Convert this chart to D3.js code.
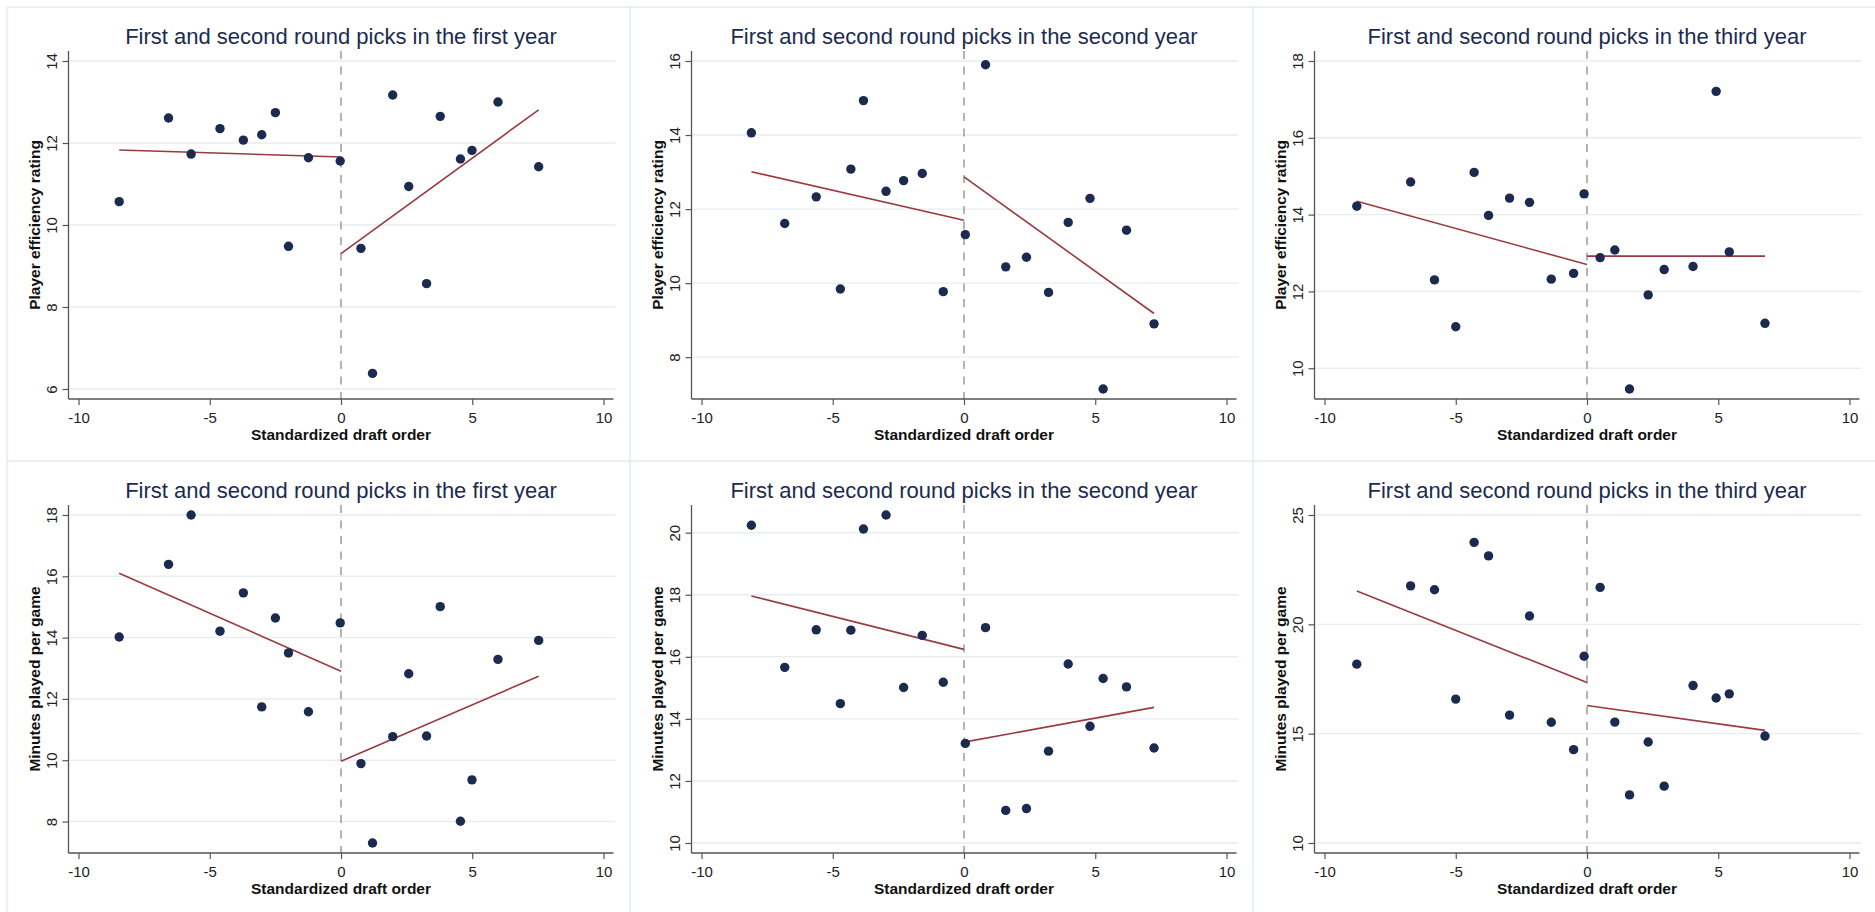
<!DOCTYPE html>
<html>
<head>
<meta charset="utf-8">
<script src="https://cdn.jsdelivr.net/npm/d3@7"></script>
<style>
  body { margin: 0; background: #fff; }
  svg { display: block; font-family: "Liberation Sans", Arial, sans-serif; }
</style>
</head>
<body>
<div id="chart"></div>
<script>
////////////////////////////////////////////////////////////////
// Data

// standardized draft order, same players in both rows of a column
const draftYear1 = [-8.45, -6.57, -5.71, -4.61, -3.72, -3.02, -2.50, -2.00, -1.24, -0.03, 0.76, 1.20, 1.97, 2.58, 3.26, 3.78, 4.55, 4.99, 5.98, 7.53];
const draftYear2 = [-8.10, -6.83, -5.63, -4.71, -4.31, -3.83, -2.97, -2.30, -1.59, -0.79, 0.05, 0.82, 1.59, 2.38, 3.22, 3.97, 4.80, 5.30, 6.19, 7.24];
const draftYear3 = [-8.77, -6.72, -5.81, -5.00, -4.30, -3.75, -2.95, -2.19, -1.36, -0.51, -0.11, 0.50, 1.06, 1.62, 2.33, 2.94, 4.04, 4.92, 5.42, 6.78];

// player efficiency rating
const perYear1 = [10.57, 12.61, 11.73, 12.35, 12.07, 12.20, 12.74, 9.48, 11.64, 11.56, 9.43, 6.38, 13.17, 10.94, 8.57, 12.65, 11.61, 11.82, 13.00, 11.42];
const perYear2 = [14.06, 11.61, 12.33, 9.84, 13.08, 14.93, 12.48, 12.77, 12.96, 9.77, 11.31, 15.90, 10.44, 10.70, 9.75, 11.64, 12.29, 7.14, 11.43, 8.90];
const perYear3 = [14.22, 14.85, 12.30, 11.08, 15.10, 13.98, 14.43, 14.32, 12.32, 12.47, 14.54, 12.88, 13.08, 9.46, 11.91, 12.57, 12.65, 17.21, 13.03, 11.17];

// minutes played per game
const mpgYear1 = [14.02, 16.39, 18.00, 14.21, 15.46, 11.74, 14.64, 13.50, 11.58, 14.48, 9.89, 7.30, 10.77, 12.82, 10.79, 15.01, 8.01, 9.36, 13.29, 13.91];
const mpgYear2 = [20.24, 15.66, 16.87, 14.49, 16.86, 20.12, 20.57, 15.01, 16.69, 15.18, 13.21, 16.94, 11.05, 11.11, 12.96, 15.77, 13.76, 15.30, 15.03, 13.06];
const mpgYear3 = [18.18, 21.76, 21.58, 16.58, 23.75, 23.13, 15.85, 20.38, 15.52, 14.27, 18.54, 21.69, 15.53, 12.20, 14.62, 12.60, 17.20, 16.63, 16.82, 14.89];

// fitted lines: [at min x, at 0 (left), at 0 (right), at max x]
const perFit1 = [11.83, 11.66, 9.30, 12.81];
const perFit2 = [13.01, 11.70, 12.87, 9.18];
const perFit3 = [14.35, 12.70, 12.92, 12.92];
const mpgFit1 = [16.10, 12.90, 9.97, 12.74];
const mpgFit2 = [17.96, 16.24, 13.25, 14.37];
const mpgFit3 = [21.52, 17.34, 16.29, 15.15];

// tick labels
const xTicks = [-10, -5, 0, 5, 10];
const perTicks1 = [6, 8, 10, 12, 14];
const perTicks2 = [8, 10, 12, 14, 16];
const perTicks3 = [10, 12, 14, 16, 18];
const mpgTicks1 = [8, 10, 12, 14, 16, 18];
const mpgTicks2 = [10, 12, 14, 16, 18, 20];
const mpgTicks3 = [10, 15, 20, 25];

const yearNames = ["first", "second", "third"];
const rowTitles = ["Player efficiency rating", "Minutes played per game"];
const xTitle = "Standardized draft order";

////////////////////////////////////////////////////////////////
// Layout

const width = 1875, height = 912;
const panelW = 623, panelH = 454;
const plot = { left: 61.5, top: 44, w: 545, h: 348 };
const pad = 10; // Stata keeps a small gap between axis line and range

const navy = "#1b2a4e";
const maroon = "#9a3a40";

const panels = [
  { x: draftYear1, y: perYear1, fit: perFit1, ticks: perTicks1 },
  { x: draftYear2, y: perYear2, fit: perFit2, ticks: perTicks2 },
  { x: draftYear3, y: perYear3, fit: perFit3, ticks: perTicks3 },
  { x: draftYear1, y: mpgYear1, fit: mpgFit1, ticks: mpgTicks1 },
  { x: draftYear2, y: mpgYear2, fit: mpgFit2, ticks: mpgTicks2 },
  { x: draftYear3, y: mpgYear3, fit: mpgFit3, ticks: mpgTicks3 }
].map((p, i) => ({ ...p, col: i % 3, row: Math.floor(i / 3) }));

const svg = d3.select("#chart")
  .append("svg")
  .attr("width", width)
  .attr("height", height)
  .attr("viewBox", [0, 0, width, height]);

svg.append("rect").attr("width", width).attr("height", height).attr("fill", "#fff");

const L = plot.left, T = plot.top, R = plot.left + plot.w, B = plot.top + plot.h;

const drawPanel = (p) => {
  const g = svg.append("g")
    .attr("transform", `translate(${7 + p.col * panelW},${7 + p.row * panelH})`);

  // faint frame of each graph
  g.append("line").attr("x1", 0).attr("x2", panelW + 2).attr("y1", 0).attr("y2", 0)
    .attr("stroke", "#e4ecee").attr("stroke-width", 1.5);
  g.append("line").attr("x1", 0).attr("x2", 0).attr("y1", 0).attr("y2", panelH + 2)
    .attr("stroke", "#e4ecee").attr("stroke-width", 1.5);

  const x = d3.scaleLinear()
    .domain(d3.extent([...xTicks, ...p.x]))
    .range([L + pad, R - pad]);
  const y = d3.scaleLinear()
    .domain(d3.extent([...p.ticks, ...p.y]))
    .range([B - pad, T + pad]);

  // grid
  g.append("g").selectAll("line")
    .data(p.ticks)
    .join("line")
    .attr("x1", L).attr("x2", R + 2)
    .attr("y1", d => y(d)).attr("y2", d => y(d))
    .attr("stroke", "#e6eef0").attr("stroke-width", 1.4);

  // cutoff
  g.append("line")
    .attr("x1", x(0)).attr("x2", x(0)).attr("y1", T).attr("y2", B)
    .attr("stroke", "#8c8c8c").attr("stroke-width", 1.3)
    .attr("stroke-dasharray", "8,7.5");

  // axes
  const yAxis = g.append("g")
    .attr("transform", `translate(${L},0)`)
    .call(d3.axisLeft(y).tickValues(p.ticks).tickSize(6).tickSizeOuter(0).tickFormat(d => String(d)));
  yAxis.select(".domain").remove();
  yAxis.selectAll(".tick line").attr("stroke", "#555").attr("stroke-width", 1.2);
  yAxis.selectAll(".tick text")
    .attr("x", null).attr("dy", null)
    .attr("transform", "translate(-12,0) rotate(-90)")
    .attr("text-anchor", "middle")
    .attr("fill", "#222")
    .style("font-size", "15px");

  const xAxis = g.append("g")
    .attr("transform", `translate(0,${B})`)
    .call(d3.axisBottom(x).tickValues(xTicks).tickSize(6).tickSizeOuter(0).tickFormat(d => String(d)));
  xAxis.select(".domain").remove();
  xAxis.selectAll(".tick line").attr("stroke", "#555").attr("stroke-width", 1.2);
  xAxis.selectAll(".tick text")
    .attr("y", 24).attr("dy", null)
    .attr("fill", "#222")
    .style("font-size", "15px");

  g.append("line").attr("x1", L).attr("x2", L).attr("y1", T).attr("y2", B)
    .attr("stroke", "#555").attr("stroke-width", 1.3);
  g.append("line").attr("x1", L).attr("x2", R).attr("y1", B).attr("y2", B)
    .attr("stroke", "#555").attr("stroke-width", 1.3);

  // fitted lines on each side of the cutoff
  const xMin = d3.min(p.x), xMax = d3.max(p.x);
  const segments = [
    [[xMin, p.fit[0]], [0, p.fit[1]]],
    [[0, p.fit[2]], [xMax, p.fit[3]]]
  ];
  const line = d3.line().x(d => x(d[0])).y(d => y(d[1]));
  g.append("g").selectAll("path")
    .data(segments)
    .join("path")
    .attr("d", line)
    .attr("fill", "none")
    .attr("stroke", maroon)
    .attr("stroke-width", 1.6);

  // scatter
  g.append("g").selectAll("circle")
    .data(p.x.map((d, i) => [d, p.y[i]]))
    .join("circle")
    .attr("cx", d => x(d[0]))
    .attr("cy", d => y(d[1]))
    .attr("r", 4.7)
    .attr("fill", navy);

  // titles
  g.append("text")
    .attr("x", L + plot.w / 2).attr("y", 36.5)
    .attr("text-anchor", "middle")
    .attr("fill", "#1c2b50")
    .style("font-size", "22px")
    .text(`First and second round picks in the ${yearNames[p.col]} year`);

  g.append("text")
    .attr("x", L + plot.w / 2).attr("y", B + 40.5)
    .attr("text-anchor", "middle")
    .attr("fill", "#111")
    .style("font-size", "15.5px")
    .style("font-weight", "bold")
    .text(xTitle);

  g.append("text")
    .attr("transform", `translate(${L - 29},${T + plot.h / 2}) rotate(-90)`)
    .attr("text-anchor", "middle")
    .attr("fill", "#111")
    .style("font-size", "15.5px")
    .style("font-weight", "bold")
    .text(rowTitles[p.row]);
};

panels.forEach(drawPanel);
</script>
</body>
</html>
